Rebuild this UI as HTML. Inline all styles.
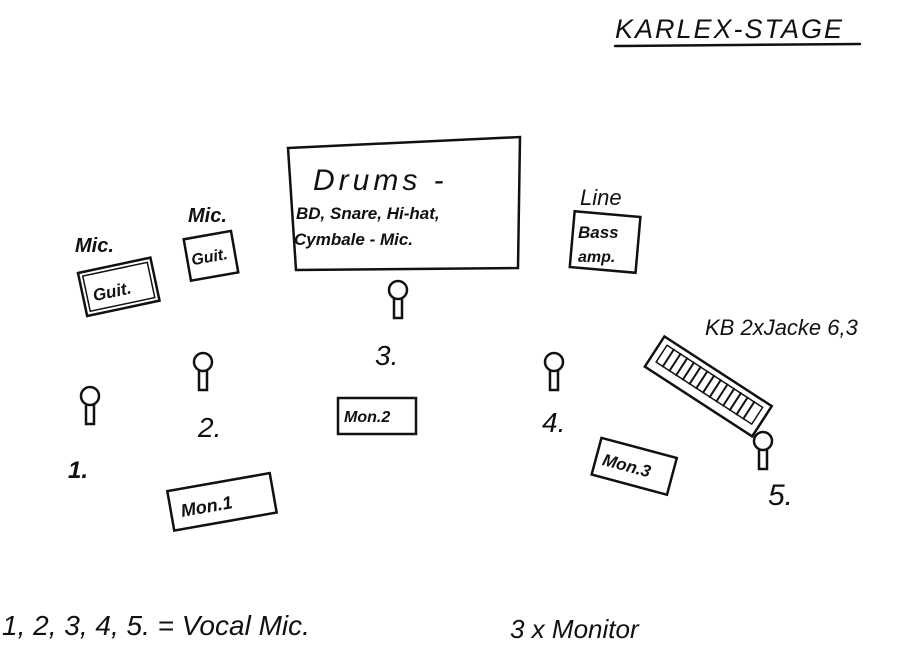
<!DOCTYPE html>
<html><head><meta charset="utf-8"><style>
html,body{margin:0;padding:0;background:#fff;}
svg{display:block}
text{font-family:"Liberation Sans",sans-serif;font-style:italic;fill:#111;}
</style></head><body>
<svg width="900" height="646" viewBox="0 0 900 646" xmlns="http://www.w3.org/2000/svg">
<defs>
<g id="m"><circle cx="0" cy="0" r="9"/><path d="M-4 9 L-4 28 L4 28 L4 9"/></g>
</defs>
<g stroke="#111" stroke-width="2.5" fill="none" stroke-linecap="round">
<line x1="615" y1="46" x2="860" y2="44"/>
<path d="M288 148 L520 137 L518 268 L296 270 Z"/>
<g transform="rotate(-12 118 288)"><rect x="82" y="265" width="74" height="44"/><rect x="86" y="269" width="66" height="36" stroke-width="1.5"/></g>
<g transform="rotate(-10 210 256)"><rect x="187" y="235" width="48" height="42"/></g>
<g transform="rotate(5 605 243)"><rect x="572" y="214" width="66" height="56"/></g>
<rect x="338" y="398" width="78" height="36"/>
<g transform="rotate(-10 221 502)"><rect x="170" y="482" width="104" height="40"/></g>
<g transform="rotate(15 633 467)"><rect x="595" y="447" width="78" height="38"/></g>
<g transform="rotate(33 708 385)">
<rect x="645" y="368" width="128" height="36"/>
<rect x="652" y="374" width="114" height="20" stroke-width="1.5"/>
<path d="M660 374v20M668 374v20M676 374v20M684 374v20M692 374v20M700 374v20M708 374v20M716 374v20M724 374v20M732 374v20M740 374v20M748 374v20M756 374v20" stroke-width="2"/>
</g>
</g>
<g stroke="#111" stroke-width="2.5" fill="none">
<use href="#m" x="90" y="396"/>
<use href="#m" x="203" y="362"/>
<use href="#m" x="398" y="290"/>
<use href="#m" x="554" y="362"/>
<use href="#m" x="763" y="441"/>
</g>
<text x="615" y="38" font-size="27" letter-spacing="2">KARLEX-STAGE</text>
<text x="313" y="190" font-size="30" letter-spacing="4">Drums -</text>
<text x="296" y="219" font-size="17" font-weight="bold">BD, Snare, Hi-hat,</text>
<text x="294" y="245" font-size="17" font-weight="bold">Cymbale - Mic.</text>
<text x="75" y="252" font-size="20" font-weight="bold">Mic.</text>
<text x="92" y="296" font-size="17" font-weight="bold" transform="rotate(-12 118 288)">Guit.</text>
<text x="188" y="222" font-size="20" font-weight="bold">Mic.</text>
<text x="191" y="262" font-size="16" font-weight="bold" transform="rotate(-10 210 256)">Guit.</text>
<text x="580" y="205" font-size="22">Line</text>
<text x="578" y="238" font-size="17" font-weight="bold">Bass</text>
<text x="578" y="262" font-size="16" font-weight="bold">amp.</text>
<text x="705" y="335" font-size="22">KB 2xJacke 6,3</text>
<text x="344" y="422" font-size="16" font-weight="bold">Mon.2</text>
<text x="180" y="510" font-size="18" font-weight="bold" transform="rotate(-10 221 502)">Mon.1</text>
<text x="602" y="473" font-size="17" font-weight="bold" transform="rotate(15 633 467)">Mon.3</text>
<text x="68" y="478" font-size="24" font-weight="bold">1.</text>
<text x="198" y="437" font-size="28">2.</text>
<text x="375" y="365" font-size="28">3.</text>
<text x="542" y="432" font-size="28">4.</text>
<text x="768" y="505" font-size="30">5.</text>
<text x="2" y="635" font-size="28">1, 2, 3, 4, 5. = Vocal Mic.</text>
<text x="510" y="638" font-size="26">3 x Monitor</text>
</svg>
</body></html>
